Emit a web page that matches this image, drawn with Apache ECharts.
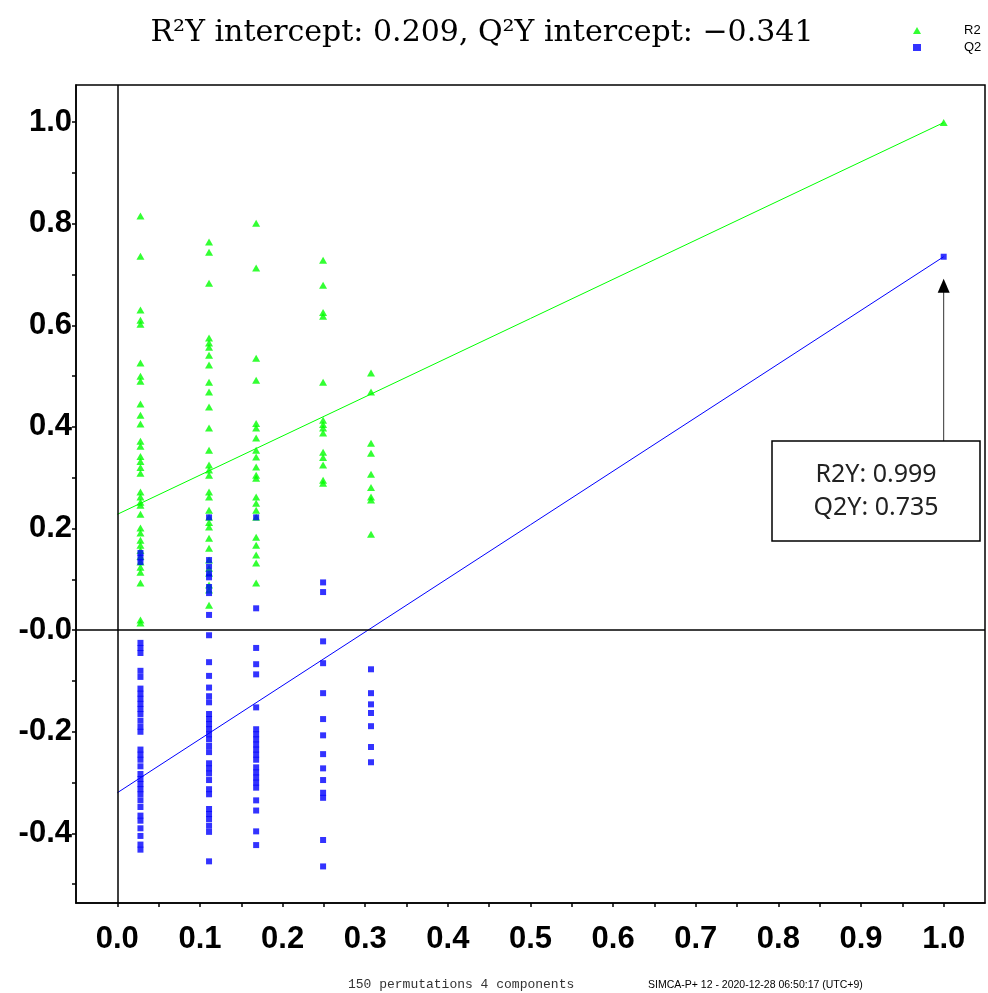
<!DOCTYPE html>
<html lang="en">
<head>
<meta charset="UTF-8">
<title>Permutation test</title>
<script src="https://cdn.jsdelivr.net/npm/echarts@6/dist/echarts.min.js"></script>
<style>
  html, body { margin: 0; padding: 0; background: #fff; }
  #chart { width: 988px; height: 993px; }
</style>
</head>
<body>
<div id="chart"></div>
<script>
// x position (correlation) of each permutation group
var colX = [0.028, 0.111, 0.168, 0.249, 0.307];

// R2 values of the permutated models, one array per group
var r2Col1 = [0.815, 0.736, 0.630, 0.610, 0.602, 0.526, 0.500, 0.490, 0.445, 0.423, 0.406, 0.372, 0.362, 0.342, 0.332, 0.320, 0.309, 0.272, 0.262, 0.252, 0.246, 0.228, 0.201, 0.191, 0.177, 0.167, 0.157, 0.145, 0.134, 0.124, 0.114, 0.093, 0.020, 0.014];
var r2Col2 = [0.764, 0.744, 0.683, 0.575, 0.565, 0.557, 0.541, 0.522, 0.488, 0.469, 0.439, 0.398, 0.354, 0.325, 0.315, 0.305, 0.272, 0.262, 0.236, 0.222, 0.212, 0.203, 0.181, 0.161, 0.138, 0.122, 0.112, 0.089, 0.079, 0.049];
var r2Col3 = [0.801, 0.713, 0.535, 0.492, 0.407, 0.398, 0.378, 0.354, 0.341, 0.321, 0.305, 0.299, 0.262, 0.250, 0.236, 0.222, 0.183, 0.167, 0.148, 0.132, 0.093];
var r2Col4 = [0.728, 0.679, 0.625, 0.618, 0.488, 0.413, 0.405, 0.398, 0.388, 0.350, 0.340, 0.325, 0.295, 0.289];
var r2Col5 = [0.506, 0.469, 0.368, 0.348, 0.307, 0.281, 0.262, 0.256, 0.189];

// Q2 values of the permutated models
var q2Col1 = [0.152, 0.143, 0.134, -0.025, -0.035, -0.045, -0.080, -0.092, -0.115, -0.125, -0.135, -0.145, -0.155, -0.165, -0.178, -0.190, -0.200, -0.235, -0.245, -0.255, -0.268, -0.283, -0.293, -0.303, -0.313, -0.323, -0.335, -0.348, -0.365, -0.375, -0.390, -0.405, -0.422, -0.432];
var q2Col2 = [0.222, 0.138, 0.125, 0.112, 0.104, 0.085, 0.073, 0.030, -0.010, -0.063, -0.090, -0.113, -0.130, -0.142, -0.165, -0.175, -0.185, -0.195, -0.205, -0.215, -0.228, -0.240, -0.262, -0.272, -0.282, -0.295, -0.313, -0.323, -0.352, -0.362, -0.372, -0.385, -0.397, -0.455];
var q2Col3 = [0.222, 0.043, -0.035, -0.067, -0.087, -0.152, -0.195, -0.205, -0.215, -0.225, -0.235, -0.245, -0.255, -0.270, -0.280, -0.290, -0.300, -0.310, -0.335, -0.355, -0.396, -0.423];
var q2Col4 = [0.094, 0.075, -0.022, -0.065, -0.124, -0.175, -0.207, -0.244, -0.272, -0.295, -0.320, -0.330, -0.413, -0.465];
var q2Col5 = [-0.077, -0.124, -0.146, -0.163, -0.189, -0.230, -0.260];

// original model
var modelX = 1.0;
var r2Model = 0.999;
var q2Model = 0.735;

// regression lines (value at x=0 and x=1)
var r2Fit = [0.228, 0.999];
var q2Fit = [-0.320, 0.735];

// ticks and labels
var xLabelValues = [0, 0.1, 0.2, 0.3, 0.4, 0.5, 0.6, 0.7, 0.8, 0.9, 1.0];
var xTickValues = [0, 0.05, 0.1, 0.15, 0.2, 0.25, 0.3, 0.35, 0.4, 0.45, 0.5, 0.55, 0.6, 0.65, 0.7, 0.75, 0.8, 0.85, 0.9, 0.95, 1.0];
var yLabelValues = [-0.4, -0.2, 0, 0.2, 0.4, 0.6, 0.8, 1.0];
var yTickValues = [-0.5, -0.4, -0.3, -0.2, -0.1, 0, 0.1, 0.2, 0.3, 0.4, 0.5, 0.6, 0.7, 0.8, 0.9, 1.0];

var titleText = 'R\u00B2Y intercept: 0.209, Q\u00B2Y intercept: \u22120.341';
var boxLines = ['R2Y: 0.999', 'Q2Y: 0.735'];

function buildPoints(cols, model) {
  var out = [];
  for (var c = 0; c < cols.length; c++) {
    for (var i = 0; i < cols[c].length; i++) {
      out.push([colX[c], cols[c][i]]);
    }
  }
  out.push([modelX, model]);
  return out;
}

var r2Data = buildPoints([r2Col1, r2Col2, r2Col3, r2Col4, r2Col5], r2Model);
var q2Data = buildPoints([q2Col1, q2Col2, q2Col3, q2Col4, q2Col5], q2Model);

var chart = echarts.init(document.getElementById('chart'));

var axisFont = { fontFamily: 'Liberation Sans', fontWeight: 'bold', fontSize: 31, color: '#000' };

var option = {
  animation: false,
  backgroundColor: '#fff',
  title: {
    text: titleText,
    left: 477,
    top: 13,
    textAlign: 'center',
    textStyle: { fontFamily: 'DejaVu Serif', fontWeight: 'normal', fontSize: 30, color: '#000' }
  },
  legend: {
    orient: 'vertical',
    left: 908,
    top: 19,
    itemWidth: 8,
    itemHeight: 7,
    itemGap: 4,
    data: ['R2', 'Q2'],
    textStyle: { fontFamily: 'Liberation Sans', fontSize: 13, color: '#000', padding: [0, 0, 0, 38] }
  },
  grid: {
    left: 76, top: 85, right: 3, bottom: 90,
    show: true, borderColor: '#000', borderWidth: 1.5, backgroundColor: '#fff'
  },
  xAxis: {
    type: 'value',
    min: -0.05,
    max: 1.05,
    axisLine: { show: true, onZero: false, lineStyle: { color: '#000', width: 1.5 } },
    axisTick: { show: true, length: 4, customValues: xTickValues, lineStyle: { color: '#000', width: 1.5 } },
    axisLabel: Object.assign({
      margin: 21,
      customValues: xLabelValues,
      formatter: function (v) { return v.toFixed(1); }
    }, axisFont),
    splitLine: { show: false }
  },
  yAxis: {
    type: 'value',
    min: -0.537,
    max: 1.073,
    axisLine: { show: true, onZero: false, lineStyle: { color: '#000', width: 1.5 } },
    axisTick: { show: true, length: 4, customValues: yTickValues, lineStyle: { color: '#000', width: 1.5 } },
    axisLabel: Object.assign({
      margin: 4,
      customValues: yLabelValues,
      formatter: function (v) { return Math.abs(v) < 1e-9 ? '-0.0' : v.toFixed(1); }
    }, axisFont),
    splitLine: { show: false }
  },
  series: [
    {
      name: 'R2 fit',
      type: 'line',
      data: [[0, r2Fit[0]], [1, r2Fit[1]]],
      showSymbol: false,
      lineStyle: { color: '#00ff00', width: 1 },
      z: 2,
      markLine: {
        silent: true,
        symbol: 'none',
        label: { show: false },
        lineStyle: { color: '#000', width: 1.5, type: 'solid' },
        data: [{ xAxis: 0 }, { yAxis: 0 }]
      }
    },
    {
      name: 'Q2 fit',
      type: 'line',
      data: [[0, q2Fit[0]], [1, q2Fit[1]]],
      showSymbol: false,
      lineStyle: { color: '#0000ff', width: 1 },
      z: 2
    },
    {
      name: 'R2',
      type: 'scatter',
      symbol: 'triangle',
      symbolSize: [8, 7],
      itemStyle: { color: '#00ff00' },
      data: r2Data,
      z: 3
    },
    {
      name: 'Q2',
      type: 'scatter',
      symbol: 'rect',
      symbolSize: 6,
      itemStyle: { color: '#0000ff' },
      data: q2Data,
      z: 4
    }
  ]
};

chart.setOption(option);

// annotation box with arrow pointing to the original Q2 model
var tip = chart.convertToPixel({ gridIndex: 0 }, [modelX, q2Model]);
var ax = tip[0], tipY = tip[1] + 22;
var boxTop = 441, boxLeft = 772, boxW = 208, boxH = 100;

chart.setOption({
  graphic: [
    {
      type: 'line',
      shape: { x1: ax, y1: tipY + 12, x2: ax, y2: boxTop },
      style: { stroke: '#333', lineWidth: 1 },
      z: 100
    },
    {
      type: 'polygon',
      shape: { points: [[ax, tipY], [ax - 6, tipY + 14], [ax + 6, tipY + 14]] },
      style: { fill: '#000' },
      z: 100
    },
    {
      type: 'rect',
      shape: { x: boxLeft, y: boxTop, width: boxW, height: boxH },
      style: { fill: '#fff', stroke: '#000', lineWidth: 1.5 },
      z: 100
    },
    {
      type: 'text',
      x: boxLeft + boxW / 2,
      y: boxTop + boxH / 2,
      style: {
        text: boxLines.join('\n'),
        fontFamily: 'Noto Sans',
        fontSize: 25,
        lineHeight: 33,
        fill: '#222',
        align: 'center',
        verticalAlign: 'middle'
      },
      z: 101
    },
    {
      type: 'text',
      x: 348, y: 985,
      style: {
        text: '150 permutations 4 components',
        fontFamily: 'Liberation Mono',
        fontSize: 13,
        fill: '#333',
        verticalAlign: 'middle'
      }
    },
    {
      type: 'text',
      x: 648, y: 985,
      style: {
        text: 'SIMCA-P+ 12 - 2020-12-28 06:50:17 (UTC+9)',
        fontFamily: 'Liberation Sans',
        fontSize: 10.5,
        fill: '#000',
        verticalAlign: 'middle'
      }
    }
  ]
});
</script>
</body>
</html>
